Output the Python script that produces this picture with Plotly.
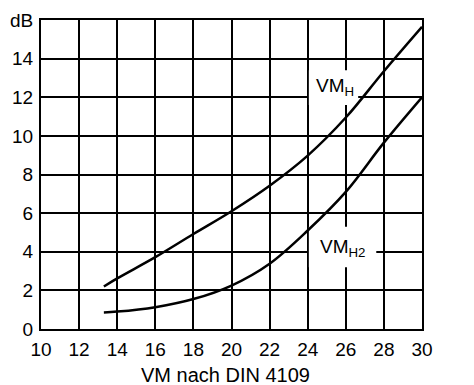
import plotly.graph_objects as go

# Data
vmh_x = [13.3, 14, 16, 18, 20, 22, 24, 26, 28, 30]
vmh_y = [2.2, 2.62, 3.72, 4.92, 6.1, 7.42, 8.98, 10.95, 13.35, 15.65]
vmh2_x = [13.3, 14, 16, 18, 20, 22, 24, 26, 28, 30]
vmh2_y = [0.86, 0.9, 1.13, 1.55, 2.25, 3.38, 5.1, 7.1, 9.65, 12.0]

x_ticks = [10, 12, 14, 16, 18, 20, 22, 24, 26, 28, 30]
x_ticktext = ["10", "12", "14", "16", "18", "20", "22", "24", "26", "28", "30"]
y_ticks = [0, 2, 4, 6, 8, 10, 12, 14, 16]
y_ticktext = ["0", "2", "4", "6", "8", "10", "12", "14", "dB"]

FONT = "Liberation Sans, Arial, sans-serif"

fig = go.Figure()
fig.add_trace(go.Scatter(x=vmh_x, y=vmh_y, mode="lines",
                         line=dict(color="black", width=2.5, shape="spline"),
                         showlegend=False, hoverinfo="skip"))
fig.add_trace(go.Scatter(x=vmh2_x, y=vmh2_y, mode="lines",
                         line=dict(color="black", width=2.5, shape="spline"),
                         showlegend=False, hoverinfo="skip"))

axis_common = dict(showgrid=True, gridcolor="black", gridwidth=2,
                   showline=True, linecolor="black", linewidth=2, mirror=True,
                   zeroline=False, ticks="outside", ticklen=2,
                   tickcolor="rgba(0,0,0,0)", automargin=False,
                   tickfont=dict(family=FONT, size=19, color="black"))

fig.update_xaxes(range=[10, 30], tickvals=x_ticks, ticktext=x_ticktext,
                 **axis_common)
fig.update_yaxes(range=[0, 16], tickvals=y_ticks, ticktext=y_ticktext,
                 **axis_common)

# white patches behind labels (cover grid lines)
fig.add_shape(type="rect", x0=24.06, x1=26.65, y0=11.6, y1=13.4,
              fillcolor="white", line=dict(width=0), layer="between")
fig.add_shape(type="rect", x0=24.06, x1=27.6, y0=3.2, y1=5.3,
              fillcolor="white", line=dict(width=0), layer="between")

fig.add_annotation(x=24.32, y=12.54, xref="x", yref="y", xanchor="left",
                   yanchor="middle", showarrow=False, text="VM<sub>H</sub>",
                   font=dict(family=FONT, size=19, color="black"))
fig.add_annotation(x=24.53, y=4.22, xref="x", yref="y", xanchor="left",
                   yanchor="middle", showarrow=False, text="VM<sub>H2</sub>",
                   font=dict(family=FONT, size=19, color="black"))

fig.add_annotation(x=32.0, y=-0.72, xref="x", yref="y", xanchor="center",
                   yanchor="middle", showarrow=False, text="dB",
                   font=dict(family=FONT, size=19, color="black"))
fig.add_annotation(x=0.483, y=-0.148, xref="paper", yref="paper",
                   xanchor="center", yanchor="middle", showarrow=False,
                   text="VM nach DIN 4109",
                   font=dict(family=FONT, size=20, color="black"))

# page body adds an 8px offset, so the figure is 8px smaller and margins shifted
fig.update_layout(width=466, height=377,
                  margin=dict(l=33, r=52, t=12, b=56),
                  plot_bgcolor="white", paper_bgcolor="white",
                  font=dict(family=FONT, size=18, color="black"))

fig.write_html("out.html")
